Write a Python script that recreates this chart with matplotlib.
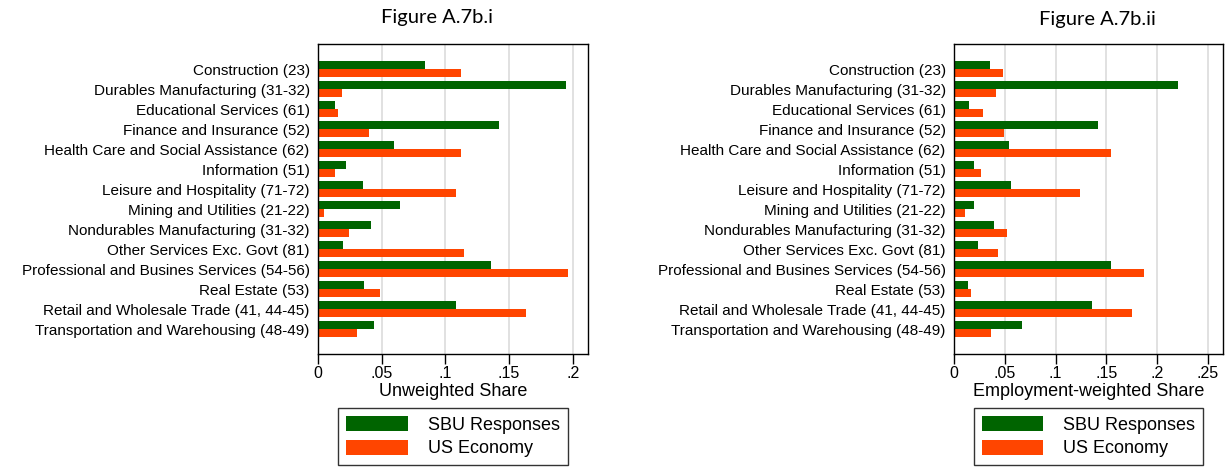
import matplotlib
matplotlib.use("Agg")
import matplotlib.pyplot as plt
import numpy as np

plt.rcParams['font.family'] = ['Liberation Sans', 'DejaVu Sans']

# Industry categories (NAICS codes in parentheses)
industries = [
    'Construction (23)',
    'Durables Manufacturing (31-32)',
    'Educational Services (61)',
    'Finance and Insurance (52)',
    'Health Care and Social Assistance (62)',
    'Information (51)',
    'Leisure and Hospitality (71-72)',
    'Mining and Utilities (21-22)',
    'Nondurables Manufacturing (31-32)',
    'Other Services Exc. Govt (81)',
    'Professional and Busines Services (54-56)',
    'Real Estate (53)',
    'Retail and Wholesale Trade (41, 44-45)',
    'Transportation and Warehousing (48-49)',
]

# Unweighted shares
sbu_unweighted = [0.084, 0.195, 0.013, 0.142, 0.060, 0.022, 0.035, 0.064,
                  0.042, 0.020, 0.136, 0.036, 0.108, 0.044]
us_unweighted = [0.112, 0.019, 0.016, 0.040, 0.112, 0.013, 0.108, 0.005,
                 0.024, 0.115, 0.196, 0.049, 0.163, 0.031]

# Employment-weighted shares
sbu_weighted = [0.035, 0.221, 0.015, 0.142, 0.054, 0.020, 0.056, 0.020,
                0.039, 0.024, 0.155, 0.014, 0.136, 0.067]
us_weighted = [0.048, 0.041, 0.029, 0.049, 0.155, 0.027, 0.124, 0.011,
               0.052, 0.043, 0.187, 0.017, 0.175, 0.036]

GREEN = '#006400'
ORANGE = '#ff4500'

fig = plt.figure(figsize=(12.28, 4.7), dpi=100)
W, H = 1228, 470


def draw_panel(rect, sbu, us, xmax, ticks, ticklabels, xlabel):
    ax = fig.add_axes(rect)
    y = np.arange(len(industries))
    ax.barh(y - 0.2, sbu, height=0.4, color=GREEN, label='SBU Responses')
    ax.barh(y + 0.2, us, height=0.4, color=ORANGE, label='US Economy')
    ax.set_yticks(y)
    ax.set_yticklabels(industries, fontsize=11)
    ax.set_ylim(len(industries) - 1 + 1.25, -1.25)
    ax.set_xlim(0, xmax)
    ax.set_xticks(ticks)
    ax.set_xticklabels(ticklabels, fontsize=11.5)
    for t in ticks[1:]:
        ax.axvline(t, color='#dcdcdc', lw=1.2, zorder=0)
    ax.tick_params(axis='y', length=0, pad=6)
    ax.tick_params(axis='x', length=7, width=1, pad=2)
    for s in ax.spines.values():
        s.set_linewidth(1.0)
    ax.set_xlabel(xlabel, fontsize=13, labelpad=1)
    leg = ax.legend(loc='upper center', bbox_to_anchor=(0.5, -0.175),
                    ncol=1, fontsize=13, frameon=True, fancybox=False,
                    edgecolor='black', handlelength=3.4, handleheight=0.9,
                    handletextpad=1.1, borderpad=0.45, labelspacing=0.3,
                    borderaxespad=0)
    leg.get_frame().set_linewidth(1.0)
    leg.get_frame().set_boxstyle('square', pad=0)
    return ax


ax1 = draw_panel([318 / W, 1 - 354 / H, 270 / W, 310 / H],
                 sbu_unweighted, us_unweighted, 0.212,
                 [0, 0.05, 0.1, 0.15, 0.2], ['0', '.05', '.1', '.15', '.2'],
                 'Unweighted Share')
ax2 = draw_panel([954 / W, 1 - 354 / H, 269 / W, 310 / H],
                 sbu_weighted, us_weighted, 0.265,
                 [0, 0.05, 0.1, 0.15, 0.2, 0.25],
                 ['0', '.05', '.1', '.15', '.2', '.25'],
                 'Employment-weighted Share')

fig.text(437 / W, 1 - 18 / H, 'Figure A.7b.i', family='Lato', fontsize=14.5,
         ha='center', va='center')
fig.text(1097 / W, 1 - 20 / H, 'Figure A.7b.ii', family='Lato', fontsize=14.5,
         ha='center', va='center')

fig.savefig('out.png', dpi=100)
